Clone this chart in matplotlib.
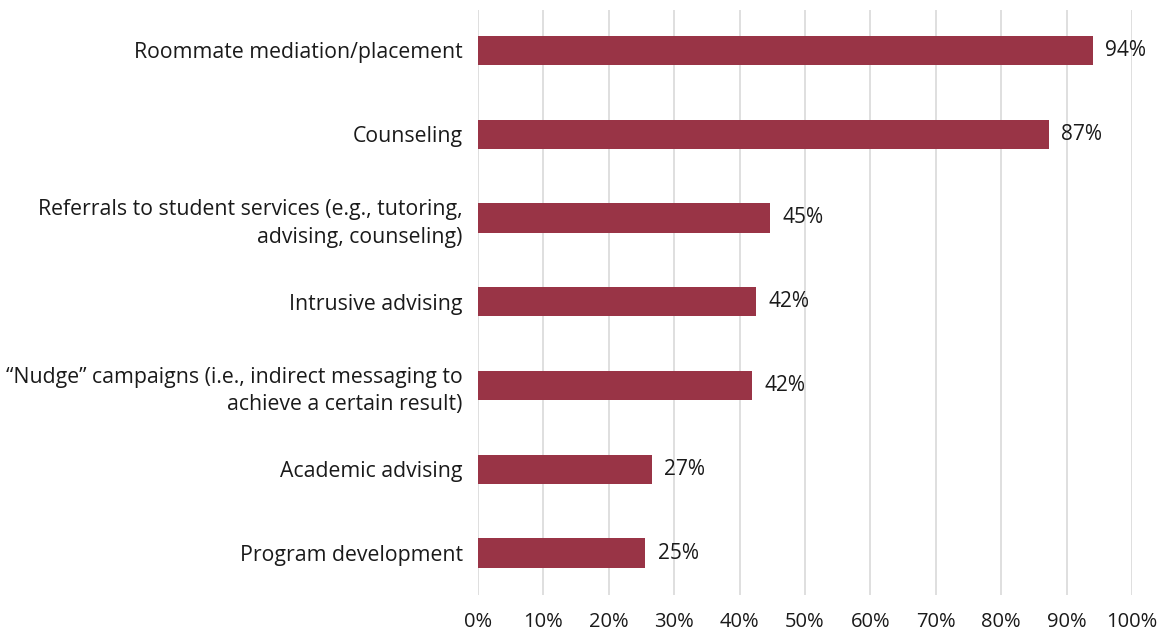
import matplotlib.pyplot as plt

plt.rcParams['font.family'] = ['Open Sans', 'DejaVu Sans']

categories = ["Roommate mediation/placement",
              "Counseling",
              "Referrals to student services (e.g., tutoring,\nadvising, counseling)",
              "Intrusive advising",
              "\u201cNudge\u201d campaigns (i.e., indirect messaging to\nachieve a certain result)",
              "Academic advising",
              "Program development"]
values = [94.0, 87.3, 44.6, 42.5, 41.9, 26.6, 25.6]
value_labels = ["94%", "87%", "45%", "42%", "42%", "27%", "25%"]
ticks = [0, 10, 20, 30, 40, 50, 60, 70, 80, 90, 100]

fig = plt.figure(figsize=(11.68, 6.35), dpi=100)
ax = fig.add_axes([0.4092, 0.063, 0.5599, 0.921])

ypos = list(range(len(categories)))[::-1]
ax.barh(ypos, values, height=0.35, color='#993446', zorder=3)

for y, v, lab in zip(ypos, values, value_labels):
    ax.text(v + 1.9, y, lab, va='center', ha='left', fontsize=15, color='#1a1a1a')

ax.set_xlim(0, 100)
ax.set_ylim(-0.5, 6.48)
ax.set_xticks(ticks)
ax.set_xticklabels([f"{t}%" for t in ticks], fontsize=14.5, color='#1a1a1a')
ax.set_yticks(ypos)
ax.set_yticklabels(categories, fontsize=15.3, color='#1a1a1a', linespacing=1.4)
ax.tick_params(axis='both', length=0)
ax.tick_params(axis='x', pad=12)
ax.tick_params(axis='y', pad=11)
ax.grid(axis='x', color='#d9d9d9', linewidth=1.2, zorder=0)
for s in ax.spines.values():
    s.set_visible(False)

fig.savefig('out.png', dpi=100)
